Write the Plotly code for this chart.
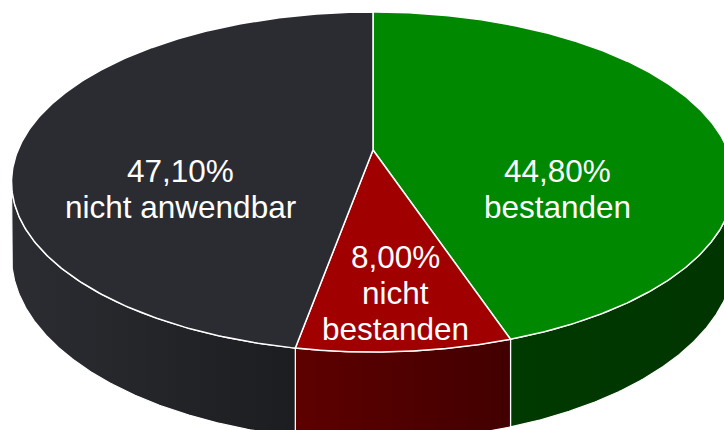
import numpy as np
import plotly.graph_objects as go

# ---- data ----
categories = ["bestanden", "nicht bestanden", "nicht anwendbar"]
values = [44.80, 8.00, 47.10]
value_labels = ["44,80%", "8,00%", "47,10%"]
label_lines = [["bestanden"], ["nicht", "bestanden"], ["nicht anwendbar"]]

# ---- style ----
top_colors = ["#008800", "#a00000", "#2b2c32"]
side_colors = [("#003a00", "#003400"), ("#5e0000", "#420000"), ("#2c2d32", "#1c1d20")]
W, H = 724, 430
cx, cy = 373.0, 150.0
R, R2, D = 355.0, 164.0, 5.31
H0 = 72.0
FONT = "Liberation Sans, Arial, sans-serif"
FS = 31.5
LINE = 36.0


def proj(theta_deg, r=1.0):
    t = np.radians(theta_deg)
    u = r * np.sin(t)
    v = -r * np.cos(t)
    s = D / (D - v)
    return cx + R * u * s, cy + R2 * v * s, s


total = sum(values)
bounds = [0.0]
for v in values:
    bounds.append(bounds[-1] + v / total * 360.0)
bounds[-1] = 360.0  # close the pie

# silhouette angles (extreme screen-x)
th = np.linspace(0, 360, 36001)
xs, _, _ = proj(th)
th_right = th[np.argmax(xs)]
th_left = th[np.argmin(xs)]

fig = go.Figure()

# side walls
for i in range(len(values)):
    a0 = max(bounds[i], th_right)
    a1 = min(bounds[i + 1], th_left)
    if a1 <= a0:
        continue
    tt = np.linspace(a0, a1, 200)
    x, y, s = proj(tt)
    yb = y + H0 * s
    px = np.concatenate([x, x[::-1], x[:1]])
    py = np.concatenate([y, yb[::-1], y[:1]])
    fig.add_trace(go.Scatter(
        x=px, y=py, mode="lines", fill="toself",
        line=dict(color="white", width=1.2),
        fillgradient=dict(type="horizontal",
                          colorscale=[[0, side_colors[i][0]], [1, side_colors[i][1]]]),
        hoverinfo="skip", showlegend=False))

# top faces
for i in range(len(values)):
    tt = np.linspace(bounds[i], bounds[i + 1], 300)
    x, y, _ = proj(tt)
    px = np.concatenate([[cx], x, [cx]])
    py = np.concatenate([[cy], y, [cy]])
    fig.add_trace(go.Scatter(
        x=px, y=py, mode="lines", fill="toself", fillcolor=top_colors[i],
        line=dict(color="white", width=1.5),
        name=categories[i], hoverinfo="skip", showlegend=False))

# labels (anchor position derived from slice mid-angle)
label_r = [0.534, 0.75, 0.55]
label_dy = [53, 0, 47]
for i in range(len(values)):
    mid = (bounds[i] + bounds[i + 1]) / 2
    lx, ly, _ = proj(mid, label_r[i])
    ly += label_dy[i]
    lines = [value_labels[i]] + label_lines[i]
    n = len(lines)
    for k, txt in enumerate(lines):
        yy = ly + (k - (n - 1) / 2) * LINE
        fig.add_annotation(x=lx, y=yy, text=txt, showarrow=False,
                           xanchor="center", yanchor="middle",
                           font=dict(family=FONT, size=FS, color="white"))

fig.update_xaxes(range=[0, W], visible=False, fixedrange=True)
fig.update_yaxes(range=[H, 0], visible=False, fixedrange=True)
fig.update_layout(width=W, height=H, margin=dict(l=0, r=0, t=0, b=0),
                  paper_bgcolor="white", plot_bgcolor="white", showlegend=False)
fig.write_html("out.html")
